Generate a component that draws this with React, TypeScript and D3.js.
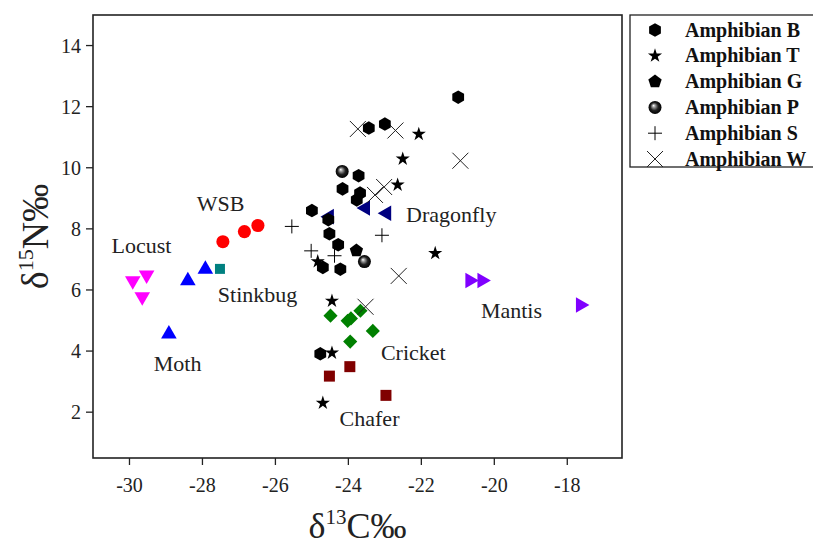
import React from 'react';
import * as d3 from 'd3';

// plot box in page pixels
const box = { left: 93, top: 15, right: 622, bottom: 458 };

const xTicks = [-30, -28, -26, -24, -22, -20, -18];
const yTicks = [2, 4, 6, 8, 10, 12, 14];

// amphibians [d13C, d15N]
const amphB = [
  [-20.99, 12.31], [-23.44, 11.3], [-23.0, 11.43], [-23.72, 9.74], [-24.16, 9.31],
  [-23.68, 9.17], [-23.77, 8.95], [-25.0, 8.6], [-24.55, 8.3], [-24.52, 7.84],
  [-24.28, 7.48], [-24.7, 6.74], [-24.22, 6.68], [-24.77, 3.91],
];
const amphT = [
  [-22.07, 11.1], [-22.51, 10.29], [-22.65, 9.44], [-21.62, 7.2], [-24.84, 6.93],
  [-24.45, 5.64], [-24.45, 3.94], [-24.7, 2.3],
];
const amphG = [[-23.78, 7.29]];
const amphP = [[-24.17, 9.88], [-23.56, 6.93]];
const amphS = [[-25.55, 8.08], [-23.08, 7.79], [-25.02, 7.28], [-24.38, 7.12]];
const amphW = [
  [-23.74, 11.27], [-22.71, 11.22], [-20.93, 10.23], [-23.02, 9.37], [-23.27, 9.11],
  [-22.62, 6.46], [-23.53, 5.45],
];

// insects
const wsb = [[-27.44, 7.58], [-26.85, 7.91], [-26.48, 8.11]];
const stinkbug = [[-27.52, 6.69]];
const moth = [[-27.92, 6.68], [-28.4, 6.3], [-28.92, 4.56]];
const locust = [[-29.91, 6.3], [-29.53, 6.49], [-29.65, 5.78]];
const dragonfly = [[-23.53, 8.68], [-22.95, 8.51], [-24.52, 8.4]];
const mantis = [[-20.67, 6.31], [-20.34, 6.31], [-17.64, 5.51]];
const cricket = [
  [-24.49, 5.16], [-24.02, 4.99], [-23.93, 5.07], [-23.67, 5.32], [-23.33, 4.66], [-23.95, 4.31],
];
const chafer = [[-23.96, 3.49], [-24.52, 3.18], [-22.97, 2.55]];

const labels = [
  { text: 'WSB', x: -27.5, y: 8.59 },
  { text: 'Locust', x: -29.67, y: 7.21 },
  { text: 'Stinkbug', x: -26.49, y: 5.61 },
  { text: 'Moth', x: -28.68, y: 3.34 },
  { text: 'Dragonfly', x: -21.18, y: 8.23 },
  { text: 'Mantis', x: -19.53, y: 5.08 },
  { text: 'Cricket', x: -22.22, y: 3.7 },
  { text: 'Chafer', x: -23.42, y: 1.54 },
];

const legendNames = ['Amphibian B', 'Amphibian T', 'Amphibian G', 'Amphibian P', 'Amphibian S', 'Amphibian W'];

const x = d3.scaleLinear().domain([-31, -16.5]).range([box.left, box.right]);
const y = d3.scaleLinear().domain([0.5, 15]).range([box.bottom, box.top]);

function polygon(n: number, r: number) {
  const pts: [number, number][] = d3.range(n).map(i => {
    const a = -Math.PI / 2 + (i * 2 * Math.PI) / n;
    return [r * Math.cos(a), r * Math.sin(a)];
  });
  return d3.line()(pts) + 'Z';
}

const hexPath = polygon(6, 6.8);
const pentPath = polygon(5, 7);
const starPath = d3.symbol(d3.symbolStar, 62)()!;
const triPath = d3.symbol(d3.symbolTriangle, 105)()!;
const squarePath = d3.symbol(d3.symbolSquare, 1)()!;
const circlePath = d3.symbol(d3.symbolCircle, 135)()!;

function marker(kind: string, key: string | number, cx: number, cy: number) {
  const t = `translate(${cx},${cy})`;
  switch (kind) {
    case 'B':
      return <path key={key} d={hexPath} transform={t} fill="#000" />;
    case 'T':
      return <path key={key} d={starPath} transform={t} fill="#000" />;
    case 'G':
      return <path key={key} d={pentPath} transform={t} fill="#000" />;
    case 'P':
      return <circle key={key} cx={cx} cy={cy} r={6.5} fill="url(#sphere)" />;
    case 'S':
      return (
        <g key={key} transform={t} stroke="#000" strokeWidth={1}>
          <line x1={-7} x2={7} y1={0} y2={0} />
          <line x1={0} x2={0} y1={-7} y2={7} />
        </g>
      );
    case 'W':
      return (
        <g key={key} transform={t} stroke="#222" strokeWidth={1}>
          <line x1={-8} x2={8} y1={-8} y2={8} />
          <line x1={-8} x2={8} y1={8} y2={-8} />
        </g>
      );
    default:
      return null;
  }
}

const App = () => {
  const serif = '"Liberation Serif", "Times New Roman", serif';
  const amph: [string, number[][]][] = [
    ['W', amphW], ['S', amphS], ['B', amphB], ['G', amphG], ['P', amphP], ['T', amphT],
  ];
  const legendKinds = ['B', 'T', 'G', 'P', 'S', 'W'];

  return (
    <svg width={813} height={548} style={{ position: 'absolute', left: 0, top: 0 }} fontFamily={serif}>
      <defs>
        <radialGradient id="sphere" cx="50%" cy="50%" r="50%" fx="38%" fy="35%">
          <stop offset="0%" stopColor="#fff" />
          <stop offset="25%" stopColor="#999" />
          <stop offset="60%" stopColor="#222" />
          <stop offset="100%" stopColor="#000" />
        </radialGradient>
      </defs>
      <rect width={813} height={548} fill="#fff" />

      {/* frame */}
      <rect
        x={box.left} y={box.top}
        width={box.right - box.left} height={box.bottom - box.top}
        fill="none" stroke="#222" strokeWidth={1.6}
      />

      {/* x axis */}
      {xTicks.map(t => (
        <g key={'x' + t}>
          <line x1={x(t)} x2={x(t)} y1={box.bottom} y2={box.bottom + 7} stroke="#222" strokeWidth={1.3} />
          <text x={x(t)} y={box.bottom + 34} textAnchor="middle" fontSize={20} fill="#222">{t}</text>
        </g>
      ))}
      {/* y axis */}
      {yTicks.map(t => (
        <g key={'y' + t}>
          <line x1={box.left - 7} x2={box.left} y1={y(t)} y2={y(t)} stroke="#222" strokeWidth={1.3} />
          <text x={box.left - 12} y={y(t) + 7} textAnchor="end" fontSize={20} fill="#222">{t}</text>
        </g>
      ))}

      {/* axis titles */}
      <text x={(box.left + box.right) / 2} y={538} textAnchor="middle" fontSize={36} fill="#222">
        δ<tspan fontSize={21} dy={-14}>13</tspan><tspan dy={14}>C‰</tspan>
      </text>
      <text
        transform={`translate(48,${(box.top + box.bottom) / 2}) rotate(-90)`}
        textAnchor="middle" fontSize={38} fill="#222"
      >
        δ<tspan fontSize={22} dy={-15}>15</tspan><tspan dy={15}>N‰</tspan>
      </text>

      {/* insects */}
      {locust.map((d, i) => (
        <path key={'lo' + i} d={triPath} transform={`translate(${x(d[0])},${y(d[1])}) rotate(180)`} fill="#ff00ff" />
      ))}
      {moth.map((d, i) => (
        <path key={'mo' + i} d={triPath} transform={`translate(${x(d[0])},${y(d[1])})`} fill="#0000ff" />
      ))}
      {wsb.map((d, i) => (
        <path key={'ws' + i} d={circlePath} transform={`translate(${x(d[0])},${y(d[1])})`} fill="#ff0000" />
      ))}
      {stinkbug.map((d, i) => (
        <path key={'st' + i} d={squarePath} transform={`translate(${x(d[0])},${y(d[1])}) scale(10)`} fill="#008080" />
      ))}
      {dragonfly.map((d, i) => (
        <path key={'dr' + i} d={triPath} transform={`translate(${x(d[0])},${y(d[1])}) rotate(-90)`} fill="#000080" />
      ))}
      {mantis.map((d, i) => (
        <path key={'ma' + i} d={triPath} transform={`translate(${x(d[0])},${y(d[1])}) rotate(90)`} fill="#8000ff" />
      ))}
      {cricket.map((d, i) => (
        <path key={'cr' + i} d={squarePath} transform={`translate(${x(d[0])},${y(d[1])}) rotate(45) scale(10)`} fill="#008000" />
      ))}
      {chafer.map((d, i) => (
        <path key={'ch' + i} d={squarePath} transform={`translate(${x(d[0])},${y(d[1])}) scale(11)`} fill="#800000" />
      ))}

      {/* amphibians */}
      {amph.map(([kind, pts]) =>
        pts.map((d, i) => marker(kind, kind + i, x(d[0]), y(d[1])))
      )}

      {/* labels */}
      {labels.map(l => (
        <text key={l.text} x={x(l.x)} y={y(l.y)} textAnchor="middle" fontSize={22} fill="#222">{l.text}</text>
      ))}

      {/* legend */}
      <rect x={630} y={15} width={190} height={152} fill="#fff" stroke="#222" strokeWidth={1.3} />
      {legendNames.map((name, i) => {
        const ly = 30 + i * 25.8;
        return (
          <g key={name}>
            {marker(legendKinds[i], 'lg' + i, 655, ly)}
            <text x={685} y={ly + 6.5} fontSize={20} fontWeight="bold" fill="#111">{name}</text>
          </g>
        );
      })}
    </svg>
  );
};

export default App;
